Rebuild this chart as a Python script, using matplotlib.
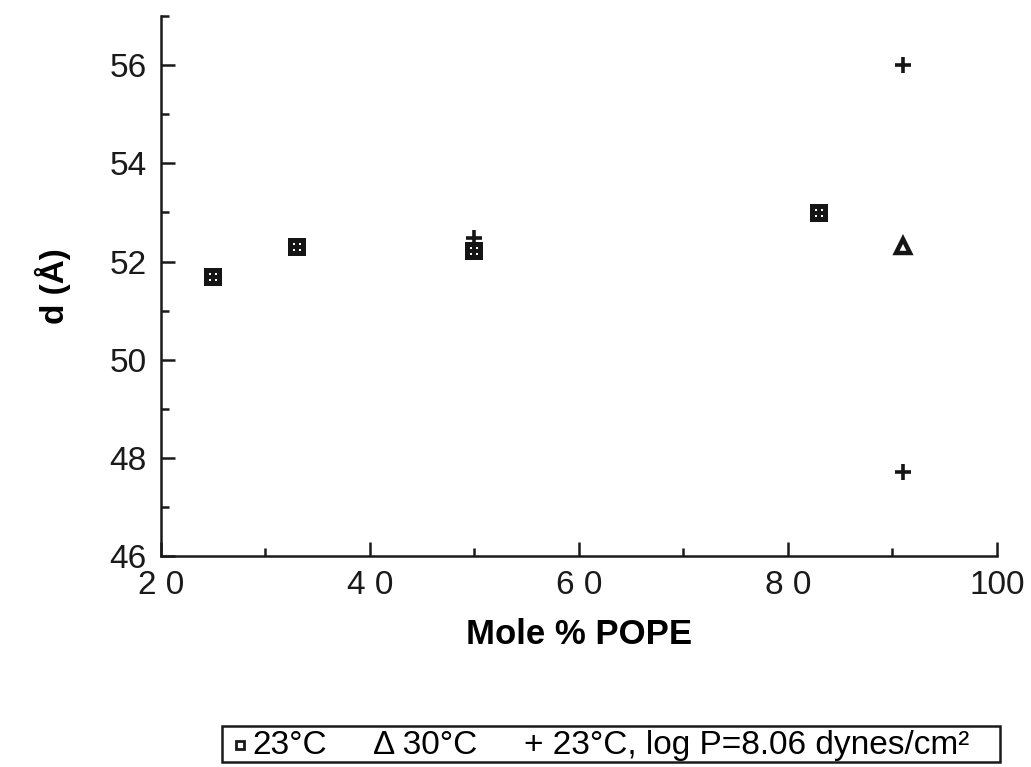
import matplotlib.pyplot as plt
from matplotlib.path import Path
from matplotlib.lines import Line2D
from matplotlib.patches import Rectangle
from matplotlib.ticker import MultipleLocator

plt.rcParams['font.family'] = ['Liberation Sans', 'DejaVu Sans']

# repeat spacings at each composition
pope_23 = [25, 33, 50, 83]
d_23 = [51.68, 52.29, 52.21, 52.99]

pope_30 = [91]
d_30 = [52.31]

pope_osm = [50, 91, 91]
d_osm = [52.48, 56.0, 47.71]

# black square with four small holes
def holed_square():
    verts = [(-1, -1), (1, -1), (1, 1), (-1, 1), (-1, -1)]
    codes = [Path.MOVETO, Path.LINETO, Path.LINETO, Path.LINETO, Path.CLOSEPOLY]
    s = 0.12
    for cx in (-0.38, 0.38):
        for cy in (-0.38, 0.38):
            verts += [(cx - s, cy - s), (cx - s, cy + s), (cx + s, cy + s),
                      (cx + s, cy - s), (cx - s, cy - s)]
            codes += [Path.MOVETO, Path.LINETO, Path.LINETO, Path.LINETO, Path.CLOSEPOLY]
    return Path(verts, codes)

sq = holed_square()

fig = plt.figure(figsize=(10.31, 7.67), dpi=100)
ax = fig.add_axes([0.156, 0.275, 0.811, 0.704])

ax.plot(pope_23, d_23, linestyle='none', marker=sq, markersize=12.5,
        color='#151515', markeredgewidth=0)
ax.plot(pope_30, d_30, linestyle='none', marker='^', markersize=10,
        markerfacecolor='white', markeredgecolor='#151515', markeredgewidth=3.2)
ax.plot(pope_osm, d_osm, linestyle='none', marker='+', markersize=12,
        color='#151515', markeredgewidth=2.6)

ax.set_xlim(20, 100)
ax.set_ylim(46, 57)
ax.xaxis.set_major_locator(MultipleLocator(20))
ax.xaxis.set_minor_locator(MultipleLocator(10))
ax.yaxis.set_major_locator(MultipleLocator(2))
ax.yaxis.set_minor_locator(MultipleLocator(1))

for side in ('top', 'right'):
    ax.spines[side].set_visible(False)
for side in ('left', 'bottom'):
    ax.spines[side].set_linewidth(1.8)
    ax.spines[side].set_color('#1a1a1a')

ax.tick_params(which='major', direction='in', length=10, width=1.8,
               labelsize=24, colors='#1a1a1a', pad=10)
ax.tick_params(which='minor', direction='in', length=6, width=1.8, colors='#1a1a1a')
ax.set_xticks([20, 40, 60, 80, 100])
ax.set_xticklabels(['2 0', '4 0', '6 0', '8 0', '100'])

ax.set_xlabel('Mole % POPE', fontsize=25, fontweight='bold', labelpad=12)
ax.set_ylabel('d (Å)', fontsize=24, fontweight='bold', labelpad=28)

# key box under the plot
fig.add_artist(Rectangle((0.215, 0.006), 0.755, 0.047, transform=fig.transFigure,
                         fill=False, edgecolor='#1a1a1a', linewidth=1.8))
fig.add_artist(Line2D([0.233], [0.029], transform=fig.transFigure, marker='s',
                      markersize=6, markerfacecolor='white', markeredgecolor='#1a1a1a',
                      markeredgewidth=2))
base = 0.017
fig.text(0.245, base, '23°C', fontsize=24, va='baseline')
fig.text(0.362, base, 'Δ 30°C', fontsize=24, va='baseline')
fig.text(0.508, base, '+ 23°C, log P=8.06 dynes/cm²', fontsize=24, va='baseline')

fig.savefig('out.png', dpi=100)
